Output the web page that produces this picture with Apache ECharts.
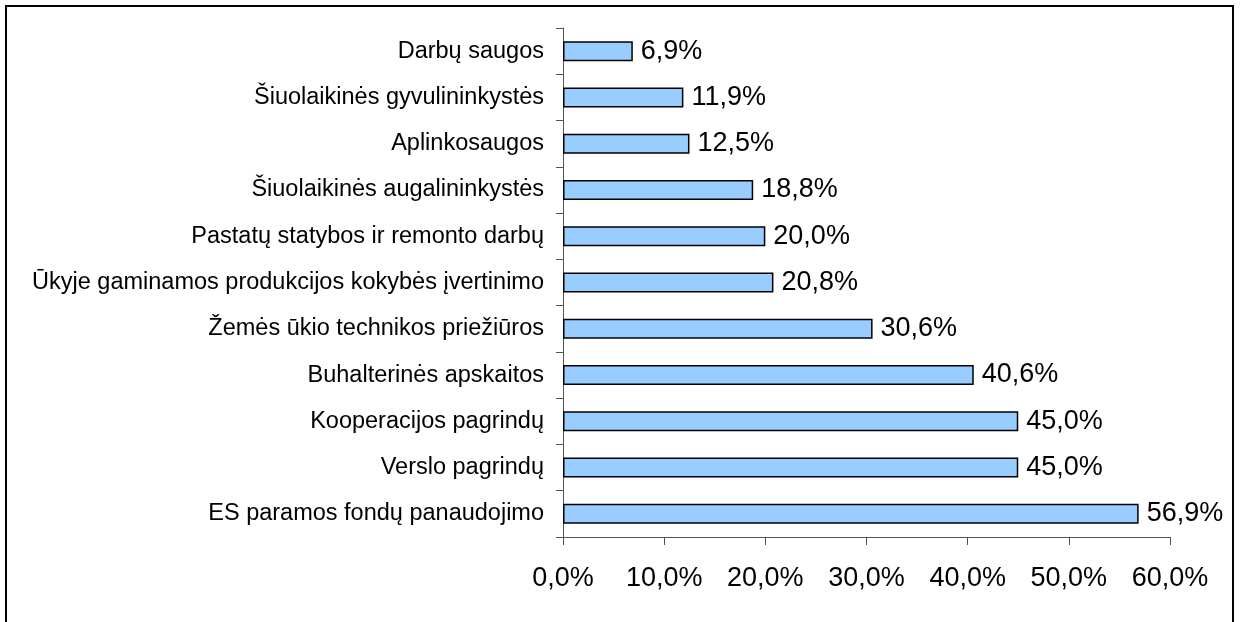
<!DOCTYPE html>
<html>
<head>
<meta charset="utf-8">
<script src="https://cdn.jsdelivr.net/npm/echarts@6/dist/echarts.min.js"></script>
<style>
  html, body { margin: 0; padding: 0; background: #fff; }
  #frame { position: absolute; left: 5px; top: 5px; width: 1225px; height: 640px; border: 2px solid #000; box-sizing: content-box; }
  #chart { position: absolute; left: 0; top: 0; width: 1242px; height: 622px; }
</style>
</head>
<body>
<div id="frame"></div>
<div id="chart"></div>
<script>
// kategorijos (iš viršaus į apačią)
var categories = [
    'Darbų saugos',
    'Šiuolaikinės gyvulininkystės',
    'Aplinkosaugos',
    'Šiuolaikinės augalininkystės',
    'Pastatų statybos ir remonto darbų',
    'Ūkyje gaminamos produkcijos kokybės įvertinimo',
    'Žemės ūkio technikos priežiūros',
    'Buhalterinės apskaitos',
    'Kooperacijos pagrindų',
    'Verslo pagrindų',
    'ES paramos fondų panaudojimo'
];
var values = [6.9, 11.9, 12.5, 18.8, 20.0, 20.8, 30.6, 40.6, 45.0, 45.0, 56.9];
var xTicks = [0, 10, 20, 30, 40, 50, 60];

function pct(v) {
    return v.toFixed(1).replace('.', ',') + '%';
}

var font = '"Liberation Sans", Arial, sans-serif';
var chart = echarts.init(document.getElementById('chart'));

var option = {
    animation: false,
    grid: {
        left: 563,
        top: 28,
        right: 72,
        bottom: 85,
        containLabel: false
    },
    xAxis: {
        type: 'value',
        min: xTicks[0],
        max: xTicks[xTicks.length - 1],
        interval: 10,
        splitLine: { show: false },
        axisLine: { show: true, lineStyle: { color: '#555', width: 1 } },
        axisTick: { show: true, length: 8, lineStyle: { color: '#555' } },
        axisLabel: {
            margin: 28,
            fontFamily: font,
            fontSize: 27,
            color: '#000',
            formatter: function (v) { return pct(v); }
        }
    },
    yAxis: {
        type: 'category',
        inverse: true,
        data: categories,
        axisLine: { show: true, lineStyle: { color: '#555', width: 1 } },
        axisTick: { show: true, length: 7, alignWithLabel: false, lineStyle: { color: '#555' } },
        axisLabel: {
            margin: 19,
            fontFamily: font,
            fontSize: 23.5,
            color: '#000'
        }
    },
    series: [{
        type: 'bar',
        data: values,
        barWidth: 20,
        itemStyle: {
            color: '#99CCFF',
            borderColor: '#000',
            borderWidth: 1.5
        },
        label: {
            show: true,
            position: 'right',
            distance: 8,
            fontFamily: font,
            fontSize: 27,
            color: '#000',
            formatter: function (p) { return pct(p.value); }
        }
    }]
};

chart.setOption(option);
</script>
</body>
</html>
